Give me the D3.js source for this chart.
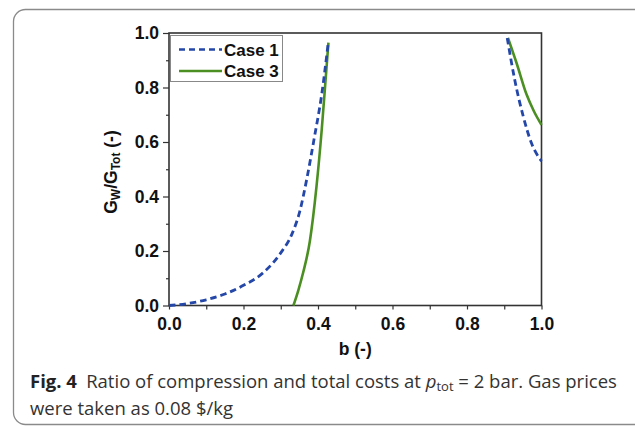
<!DOCTYPE html>
<html>
<head>
<meta charset="utf-8">
<script src="https://cdn.jsdelivr.net/npm/d3@7"></script>
<style>
  body { margin: 0; background: #fff; }
  svg { display: block; }
</style>
</head>
<body>
<svg id="chart" width="635" height="426"></svg>
<script>
// --- data (b, Gw/Gtot)
const case1Left = [[0, 0], [0.05, 0.007], [0.1, 0.021], [0.15, 0.042], [0.2, 0.074], [0.25, 0.117], [0.3, 0.193],
  [0.33, 0.262], [0.351, 0.345], [0.37, 0.465], [0.39, 0.615], [0.41, 0.775], [0.428, 0.97]];
const case1Right = [[0.908, 0.982], [0.928, 0.829], [0.951, 0.694], [0.973, 0.596], [1.0, 0.53]];
const case3Left = [[0.334, 0], [0.347, 0.055], [0.36, 0.12], [0.378, 0.235], [0.396, 0.437], [0.41, 0.645],
  [0.421, 0.84], [0.428, 0.965]];
const case3Right = [[0.91, 0.982], [0.933, 0.89], [0.96, 0.774], [0.98, 0.712], [1.0, 0.663]];
const seriesNames = ['Case 1', 'Case 3'];
const xTicks = [0, 0.2, 0.4, 0.6, 0.8, 1.0];
const yTicks = [0, 0.2, 0.4, 0.6, 0.8, 1.0];
const minorTicks = [0.1, 0.3, 0.5, 0.7, 0.9];

const BLUE = '#2447a8';
const GREEN = '#4b8f22';
const AXIS_FONT = '"Liberation Sans", Arial, sans-serif';

const svg = d3.select('#chart');

// card frame
svg.append('rect')
  .attr('x', 13.5).attr('y', 9.5)
  .attr('width', 640).attr('height', 415)
  .attr('rx', 12)
  .attr('fill', '#fff')
  .attr('stroke', '#8a8a8a')
  .attr('stroke-width', 1.3);

const plot = { left: 169, top: 33, right: 541.5, bottom: 305.5 };

const x = d3.scaleLinear().domain([0, 1]).range([plot.left, plot.right]);
const y = d3.scaleLinear().domain([0, 1]).range([plot.bottom, plot.top]);

const g = svg.append('g');

const styleAxis = s => {
  s.select('.domain').remove();
  s.selectAll('line').attr('stroke', '#333').attr('stroke-width', 1.2);
  s.selectAll('text')
    .attr('font-family', AXIS_FONT).attr('font-weight', 'bold')
    .attr('font-size', 17.5).attr('fill', '#111');
};

// minor ticks
g.append('g')
  .attr('transform', `translate(0,${plot.bottom})`)
  .call(d3.axisBottom(x).tickValues(minorTicks).tickSize(4).tickFormat(''))
  .call(styleAxis);
g.append('g')
  .attr('transform', `translate(${plot.left},0)`)
  .call(d3.axisLeft(y).tickValues(minorTicks).tickSize(3).tickFormat(''))
  .call(styleAxis);

// major ticks + labels
g.append('g')
  .attr('transform', `translate(0,${plot.bottom})`)
  .call(d3.axisBottom(x).tickValues(xTicks).tickSize(4).tickPadding(8).tickFormat(d3.format('.1f')))
  .call(styleAxis);
g.append('g')
  .attr('transform', `translate(${plot.left},0)`)
  .call(d3.axisLeft(y).tickValues(yTicks).tickSize(6).tickPadding(4).tickFormat(d3.format('.1f')))
  .call(styleAxis);

// plot box
g.append('rect')
  .attr('x', plot.left).attr('y', plot.top)
  .attr('width', plot.right - plot.left).attr('height', plot.bottom - plot.top)
  .attr('fill', 'none').attr('stroke', '#333').attr('stroke-width', 1.6);

// curves
const line = d3.line().x(d => x(d[0])).y(d => y(d[1])).curve(d3.curveMonotoneX);
const curves = g.append('g').attr('fill', 'none');
[case3Left, case3Right].forEach(d => {
  curves.append('path').attr('d', line(d)).attr('stroke', GREEN).attr('stroke-width', 2.6);
});
[case1Left, case1Right].forEach(d => {
  curves.append('path').attr('d', line(d)).attr('stroke', BLUE).attr('stroke-width', 2.8)
    .attr('stroke-dasharray', '6.5,4');
});

// legend
const legend = g.append('g');
legend.append('rect')
  .attr('x', 170.5).attr('y', 35.5).attr('width', 112).attr('height', 46)
  .attr('fill', '#fff').attr('stroke', '#888').attr('stroke-width', 1);
seriesNames.forEach((name, i) => {
  const ly = 49.5 + i * 21.5;
  legend.append('line')
    .attr('x1', 179).attr('x2', 222).attr('y1', ly).attr('y2', ly)
    .attr('stroke', i === 0 ? BLUE : GREEN).attr('stroke-width', 2.6)
    .attr('stroke-dasharray', i === 0 ? '6,4' : null);
  legend.append('text')
    .attr('x', 224).attr('y', ly + 6)
    .attr('font-family', AXIS_FONT)
    .attr('font-weight', 'bold').attr('font-size', 17).attr('fill', '#111')
    .text(name);
});

// axis titles
svg.append('text')
  .attr('x', (plot.left + plot.right) / 2).attr('y', 355)
  .attr('text-anchor', 'middle')
  .attr('font-family', AXIS_FONT)
  .attr('font-weight', 'bold').attr('font-size', 17.5).attr('fill', '#111')
  .text('b (-)');

const yt = svg.append('text')
  .attr('transform', `translate(117,172) rotate(-90)`)
  .attr('text-anchor', 'middle')
  .attr('font-family', AXIS_FONT)
  .attr('font-weight', 'bold').attr('font-size', 17.5).attr('fill', '#111');
yt.append('tspan').text('G');
yt.append('tspan').attr('baseline-shift', '-25%').attr('font-size', 12).text('W');
yt.append('tspan').text('/G');
yt.append('tspan').attr('baseline-shift', '-25%').attr('font-size', 12).text('Tot');
yt.append('tspan').text(' (-)');

// caption
const capFont = '"Open Sans", "Noto Sans", sans-serif';
const cap1 = svg.append('text').attr('x', 30).attr('y', 388)
  .attr('font-family', capFont).attr('font-size', 18.5).attr('fill', '#333');
cap1.append('tspan').attr('font-weight', 'bold').attr('fill', '#222').text('Fig. 4');
cap1.append('tspan').text('\u2002Ratio of compression and total costs at ');
cap1.append('tspan').attr('font-style', 'italic').text('p');
cap1.append('tspan').attr('baseline-shift', '-25%').attr('font-size', 13).text('tot');
cap1.append('tspan').text(' = 2 bar. Gas prices');
svg.append('text').attr('x', 30).attr('y', 415)
  .attr('font-family', capFont).attr('font-size', 18.5).attr('fill', '#333')
  .text('were taken as 0.08 $/kg');
</script>
</body>
</html>
